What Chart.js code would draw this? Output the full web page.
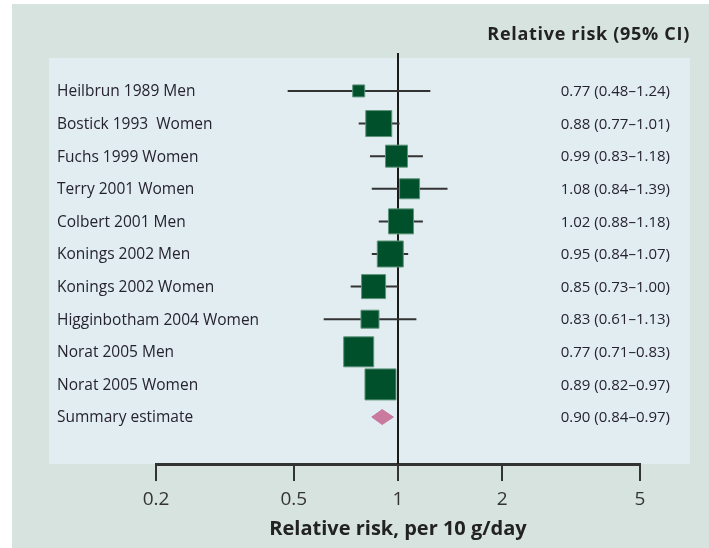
<!DOCTYPE html>
<html>
<head>
<meta charset="utf-8">
<script src="https://cdn.jsdelivr.net/npm/chart.js@4.4.1/dist/chart.umd.min.js"></script>
<style>
  html, body { margin: 0; padding: 0; background: #ffffff; }
  #wrap { width: 709px; height: 548px; }
</style>
</head>
<body>
<div id="wrap"><canvas id="c" width="709" height="548"></canvas></div>
<script>
// Studies (rows, top to bottom); the last row is the pooled estimate
const studies = [
  'Heilbrun 1989 Men',
  'Bostick 1993  Women',
  'Fuchs 1999 Women',
  'Terry 2001 Women',
  'Colbert 2001 Men',
  'Konings 2002 Men',
  'Konings 2002 Women',
  'Higginbotham 2004 Women',
  'Norat 2005 Men',
  'Norat 2005 Women',
  'Summary estimate'
];
// Relative risk per 10 g/day and 95% confidence limits
const relRisk = [0.77, 0.88, 0.99, 1.08, 1.02, 0.95, 0.85, 0.83, 0.77, 0.89, 0.90];
const ciLow   = [0.48, 0.77, 0.83, 0.84, 0.88, 0.84, 0.73, 0.61, 0.71, 0.82, 0.84];
const ciHigh  = [1.24, 1.01, 1.18, 1.39, 1.18, 1.07, 1.00, 1.13, 0.83, 0.97, 0.97];
// Study weights, shown as the side of each square (px)
const weights = [12, 26, 22, 20, 25, 26, 24, 18, 30, 31];
// x-axis ticks
const xTicks = [0.2, 0.5, 1, 2, 5];

const SUMMARY = studies.length - 1;
const fmt = v => v.toFixed(2);
const ciLabels = relRisk.map((v, i) => `${fmt(v)} (${fmt(ciLow[i])}\u2013${fmt(ciHigh[i])})`);

const FONT = "'Open Sans', 'DejaVu Sans', sans-serif";
const TEXT = '#26232f';
const INK = '#333333';
const DIAMOND_HALF = 0.23; // half-height of the pooled-estimate diamond, in row units
const Y_MIN = -1.01, Y_MAX = 11.44;

// Whisker segments, one per study
const whiskers = studies.slice(0, SUMMARY).map((name, i) => ({
  type: 'scatter',
  label: name + ' CI',
  data: [{ x: ciLow[i], y: i }, { x: ciHigh[i], y: i }],
  showLine: true,
  borderColor: INK,
  borderWidth: 2,
  pointRadius: 0,
  order: 2
}));

const squares = {
  type: 'scatter',
  label: 'Relative risk',
  data: studies.slice(0, SUMMARY).map((_, i) => ({ x: relRisk[i], y: i })),
  pointStyle: 'rect',
  pointRadius: weights.map(s => s / Math.SQRT2),
  pointHoverRadius: weights.map(s => s / Math.SQRT2),
  backgroundColor: '#00502c',
  borderColor: '#5d9479',
  borderWidth: 1,
  order: 0
};

const diamond = {
  type: 'scatter',
  label: 'Summary estimate',
  data: [
    { x: ciLow[SUMMARY], y: SUMMARY },
    { x: relRisk[SUMMARY], y: SUMMARY - DIAMOND_HALF },
    { x: ciHigh[SUMMARY], y: SUMMARY },
    { x: relRisk[SUMMARY], y: SUMMARY + DIAMOND_HALF },
    { x: ciLow[SUMMARY], y: SUMMARY }
  ],
  showLine: true,
  fill: 'shape',
  backgroundColor: '#c97a9e',
  borderColor: '#c97a9e',
  borderWidth: 1,
  pointRadius: 0,
  order: 1
};

// Page background, plot panel, line of no effect, row labels and column header
const decor = {
  id: 'decor',
  beforeDraw(chart) {
    const { ctx, chartArea: a } = chart;
    ctx.save();
    ctx.fillStyle = '#d7e3de';
    ctx.fillRect(12, 4, chart.width - 12, chart.height - 4);
    ctx.fillStyle = '#e2edf2';
    ctx.fillRect(49, a.top, 690 - 49, a.bottom - a.top);
    ctx.restore();
  },
  beforeDatasetsDraw(chart) {
    const { ctx, chartArea: a, scales } = chart;
    const x = Math.round(scales.x.getPixelForValue(1));
    ctx.save();
    ctx.strokeStyle = '#1a1a1a';
    ctx.lineWidth = 2;
    ctx.beginPath();
    ctx.moveTo(x, a.top - 5);
    ctx.lineTo(x, a.bottom);
    ctx.stroke();
    ctx.restore();
  },
  afterDraw(chart) {
    const { ctx, scales } = chart;
    ctx.save();
    ctx.textBaseline = 'middle';
    ctx.fillStyle = TEXT;
    // study names, left-aligned at the left edge of the row-label axis
    ctx.font = `15.5px ${FONT}`;
    ctx.textAlign = 'left';
    studies.forEach((name, i) => {
      ctx.fillText(name, scales.y.left, scales.y.getPixelForValue(i) + 1);
    });
    // estimates, right-aligned at the right edge of the estimate axis
    ctx.font = `15px ${FONT}`;
    ctx.textAlign = 'right';
    ciLabels.forEach((t, i) => {
      ctx.fillText(t, scales.yRight.right, scales.yRight.getPixelForValue(i) + 1);
    });
    // column header
    ctx.font = `bold 18px ${FONT}`;
    ctx.fillStyle = '#222';
    ctx.letterSpacing = '0.7px';
    ctx.fillText('Relative risk (95% CI)', 690, 35);
    ctx.restore();
  }
};

const rowTicks = scale => { scale.ticks = studies.map((_, i) => ({ value: i })); };

new Chart(document.getElementById('c'), {
  type: 'scatter',
  data: { datasets: [squares, diamond, ...whiskers] },
  options: {
    responsive: false,
    animation: false,
    layout: { padding: { left: 57, right: 39, top: 58, bottom: 0 } },
    plugins: { legend: { display: false }, tooltip: { enabled: false }, title: { display: false } },
    scales: {
      x: {
        type: 'logarithmic',
        min: 0.2,
        max: 5,
        afterBuildTicks: s => { s.ticks = xTicks.map(v => ({ value: v })); },
        afterFit: s => { s.height = 84; },
        ticks: {
          callback: v => String(v),
          color: INK,
          font: { family: FONT, size: 19 },
          padding: 7,
          maxRotation: 0,
          autoSkip: false
        },
        grid: { drawOnChartArea: false, drawTicks: true, tickLength: 17, tickColor: INK, lineWidth: 2 },
        border: { display: true, color: '#333', width: 3 },
        title: {
          display: true,
          text: 'Relative risk, per 10 g/day',
          color: '#222',
          font: { family: FONT, size: 20, weight: 'bold' },
          padding: { top: 0, bottom: 7 }
        }
      },
      y: {
        type: 'linear',
        position: 'left',
        reverse: true,
        min: Y_MIN,
        max: Y_MAX,
        afterBuildTicks: rowTicks,
        afterFit: s => { s.width = 99; },
        ticks: { display: false },
        grid: { display: false },
        border: { display: false }
      },
      yRight: {
        type: 'linear',
        position: 'right',
        reverse: true,
        min: Y_MIN,
        max: Y_MAX,
        afterBuildTicks: rowTicks,
        afterFit: s => { s.width = 30; },
        ticks: { display: false },
        grid: { display: false },
        border: { display: false }
      }
    }
  },
  plugins: [decor]
});
</script>
</body>
</html>
